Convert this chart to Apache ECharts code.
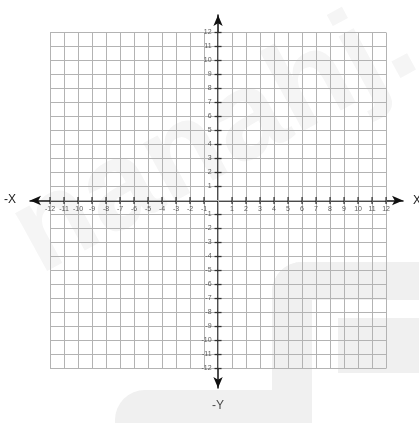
<!DOCTYPE html>
<html>
<head>
<meta charset="utf-8">
<script src="https://cdn.jsdelivr.net/npm/echarts@6/dist/echarts.min.js"></script>
<style>
  html, body { margin: 0; padding: 0; background: #fff; }
  #chart { width: 419px; height: 423px; }
</style>
</head>
<body>
<div id="chart"></div>
<script>
var ticks = [-12, -11, -10, -9, -8, -7, -6, -5, -4, -3, -2, -1, 0, 1, 2, 3, 4, 5, 6, 7, 8, 9, 10, 11, 12];
var tickLabels = [-12, -11, -10, -9, -8, -7, -6, -5, -4, -3, -2, -1, 1, 2, 3, 4, 5, 6, 7, 8, 9, 10, 11, 12];
var xRange = [-13.43, 13.21];
var yRange = [-13.39, 13.25];

var chartDom = document.getElementById('chart');
var myChart = echarts.init(chartDom);

// grid lines, drawn as markLines in data coordinates
var gridLines = [];
ticks.forEach(function (v) {
    gridLines.push([{ coord: [v, -12] }, { coord: [v, 12] }]);
    gridLines.push([{ coord: [-12, v] }, { coord: [12, v] }]);
});

var xTickPts = tickLabels.map(function (v) { return [v, 0]; });
var yTickPts = tickLabels.map(function (v) { return [0, v]; });

var tickLabel = {
    show: true,
    fontSize: 7,
    color: '#333',
    fontFamily: 'Liberation Sans'
};

option = {
    animation: false,
    backgroundColor: '#fff',
    grid: {
        left: 30,
        right: 16,
        top: 15,
        bottom: 35,
        containLabel: false,
        outerBoundsMode: 'none'
    },
    graphic: [
        // faint watermark in the background
        { type: 'rect', z: -10, shape: { x: 272, y: 262, width: 160, height: 38, r: [30, 0, 0, 0] }, style: { fill: '#f0f0f0' } },
        { type: 'rect', z: -10, shape: { x: 272, y: 262, width: 40, height: 170, r: [30, 0, 0, 0] }, style: { fill: '#f0f0f0' } },
        { type: 'rect', z: -10, shape: { x: 338, y: 318, width: 90, height: 55 }, style: { fill: '#f0f0f0' } },
        { type: 'rect', z: -10, shape: { x: 115, y: 390, width: 197, height: 40, r: [30, 0, 0, 0] }, style: { fill: '#f0f0f0' } },
        {
            type: 'text', z: -10, x: 215, y: 140, rotation: 0.5,
            style: {
                text: 'nanahj.', fill: '#f5f5f5', font: 'bold 125px "Liberation Sans"',
                align: 'center', verticalAlign: 'middle'
            }
        },
        {
            type: 'text', x: 4, y: 200,
            style: { text: '-X', fill: '#222', font: '12px "Liberation Sans"', verticalAlign: 'middle' }
        }
    ],
    xAxis: {
        type: 'value',
        min: xRange[0],
        max: xRange[1],
        name: 'X',
        nameLocation: 'end',
        nameGap: 10,
        nameTextStyle: { fontSize: 12, color: '#222', fontFamily: 'Liberation Sans' },
        axisLine: {
            show: true,
            onZero: true,
            symbol: ['arrow', 'arrow'],
            symbolSize: [7, 11],
            lineStyle: { color: '#111', width: 1.5 }
        },
        axisTick: { show: false },
        axisLabel: { show: false },
        splitLine: { show: false }
    },
    yAxis: {
        type: 'value',
        min: yRange[0],
        max: yRange[1],
        name: 'Y',
        nameLocation: 'end',
        nameGap: 12,
        nameTextStyle: { fontSize: 12, color: '#222', fontFamily: 'Liberation Sans' },
        axisLine: {
            show: true,
            onZero: true,
            symbol: ['arrow', 'arrow'],
            symbolSize: [7, 11],
            lineStyle: { color: '#111', width: 1.5 }
        },
        axisTick: { show: false },
        axisLabel: { show: false },
        splitLine: { show: false }
    },
    series: [
        {
            name: 'grid',
            type: 'line',
            data: [],
            silent: true,
            markLine: {
                silent: true,
                symbol: ['none', 'none'],
                label: { show: false },
                lineStyle: { color: '#b3b3b3', width: 1, type: 'solid' },
                data: gridLines
            }
        },
        {
            name: 'xTicks',
            type: 'scatter',
            data: xTickPts,
            symbol: 'rect',
            symbolSize: [1.3, 7],
            itemStyle: { color: '#111' },
            silent: true,
            z: 5,
            label: Object.assign({}, tickLabel, {
                position: 'bottom',
                distance: 2,
                formatter: function (p) { return String(p.value[0]); }
            })
        },
        {
            name: 'yTicks',
            type: 'scatter',
            data: yTickPts,
            symbol: 'rect',
            symbolSize: [7, 1.3],
            itemStyle: { color: '#111' },
            silent: true,
            z: 5,
            label: Object.assign({}, tickLabel, {
                position: 'left',
                distance: 3,
                formatter: function (p) { return String(p.value[1]); }
            })
        },
        {
            name: 'negY',
            type: 'scatter',
            data: [[0, yRange[0]]],
            symbolSize: 0,
            silent: true,
            label: {
                show: true,
                position: 'bottom',
                distance: 12,
                formatter: '-Y',
                fontSize: 12,
                color: '#222',
                fontFamily: 'Liberation Sans'
            }
        }
    ]
};

option && myChart.setOption(option);
new ResizeObserver(() => myChart.resize()).observe(chartDom);
</script>
</body>
</html>
